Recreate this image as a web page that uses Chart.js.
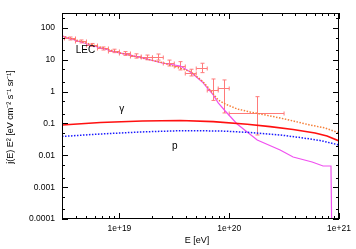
<!DOCTYPE html>
<html>
<head>
<meta charset="utf-8">
<script src="https://cdn.jsdelivr.net/npm/chart.js@4.4.1/dist/chart.umd.min.js"></script>
<style>
  html, body { margin: 0; padding: 0; background: #fff; }
</style>
</head>
<body>
<canvas id="chart" width="356" height="249"></canvas>
<script>
// E in eV, j(E) E^2 in eV cm^-2 s^-1 sr^-1

// LEC model (magenta)
const lecE = [3e18, 5.45e18, 1e19, 1.55e19, 2.51e19, 3.59e19, 4.42e19, 4.91e19, 5.69e19, 6.31e19, 7.16e19, 7.94e19, 9.2e19, 1.18e20, 1.8e20, 2.91e20, 3.82e20, 5.69e20, 7.16e20, 8.45e20, 8.63e20];
const lecFlux = [56.1, 29.2, 16.4, 11.9, 7.8, 6.4, 4.15, 3.11, 2.01, 1.31, 0.787, 0.442, 0.247, 0.0966, 0.0303, 0.0147, 0.00887, 0.00618, 0.00462, 0.00462, 0.00001];

// total (orange dotted)
const totE = [3e18, 1e19, 2.51e19, 4.42e19, 5.69e19, 6.31e19, 7.16e19, 7.94e19, 9.2e19, 1.18e20, 1.55e20, 1.91e20, 2.91e20, 3.82e20, 5.44e20, 7.46e20, 1e21];
const totFlux = [56.2, 16.6, 8.0, 4.3, 2.15, 1.45, 0.85, 0.548, 0.41, 0.286, 0.23, 0.199, 0.149, 0.12, 0.0897, 0.0722, 0.0504];

// gamma (red)
const gamE = [3e18, 6.71e18, 1.62e19, 3.59e19, 7.16e19, 1.46e20, 2.36e20, 3.82e20, 6.05e20, 7.78e20, 1e21];
const gamFlux = [0.0897, 0.1076, 0.12, 0.124, 0.114, 0.0944, 0.0794, 0.0649, 0.0504, 0.0405, 0.0282];

// protons (blue dotted)
const protE = [3e18, 6.71e18, 1.55e19, 3.59e19, 8.28e19, 1.55e20, 2.91e20, 4.71e20, 6.71e20, 1e21];
const protFlux = [0.0391, 0.0468, 0.054, 0.0594, 0.0582, 0.0522, 0.0436, 0.0351, 0.0293, 0.0211];

// measured points with bins and errors
const obsE = [3.55e18, 4.47e18, 5.62e18, 7.08e18, 8.91e18, 1.12e19, 1.41e19, 1.78e19, 2.24e19, 2.82e19, 3.55e19, 4.47e19, 5.62e19, 7.08e19, 8.91e19, 1.78e20];
const obsElo = [3.16e18, 3.98e18, 5.01e18, 6.31e18, 7.94e18, 1e19, 1.26e19, 1.58e19, 2e19, 2.51e19, 3.16e19, 3.98e19, 5.01e19, 6.31e19, 7.94e19, 1e20];
const obsEhi = [3.98e18, 5.01e18, 6.31e18, 7.94e18, 1e19, 1.26e19, 1.58e19, 2e19, 2.51e19, 3.16e19, 3.98e19, 5.01e19, 6.31e19, 7.94e19, 1e20, 3.16e20];
const obsFlux = [46.9, 37.7, 29.3, 22.7, 19.0, 15.8, 13.2, 11.9, 12.3, 7.96, 6.41, 3.95, 5.43, 1.12, 1.28, 0.21];
const obsLo = [42, 34, 26.3, 20.3, 16.8, 13.8, 11.3, 10.0, 9.8, 6.4, 4.8, 3.11, 3.95, 0.53, 0.214, 0.0436];
const obsHi = [52, 42, 32.6, 25.3, 21.5, 18.1, 15.4, 14.1, 15.2, 9.8, 8.75, 5.05, 7.8, 2.5, 2.33, 0.695];

// axes
const xTickValues = [1e19, 1e20, 1e21];
const xTickLabels = ['1e+19', '1e+20', '1e+21'];
const yTickValues = [1e-4, 1e-3, 1e-2, 1e-1, 1, 10, 100];
const yTickLabels = ['0.0001', '0.001', '0.01', '0.1', '1', '10', '100'];

// curve labels placed at data coordinates
const curveLabels = [
    { text: 'LEC', x: 4.9e18, y: 19.7 },
    { text: '\u03b3', x: 1.05e19, y: 0.29 },
    { text: 'p', x: 3.2e19, y: 0.0196 }
];

const FONT = '"Liberation Sans", Arial, sans-serif';

const toPoints = (xs, ys) => xs.map((x, i) => ({ x: x, y: ys[i] }));

// gnuplot-like frame: box, inward ticks on all sides, error bars, text
const frame = {
    id: 'frame',
    beforeDatasetsDraw(chart) {
        const { ctx, chartArea: a, scales: { x, y } } = chart;
        ctx.save();
        ctx.beginPath();
        ctx.rect(a.left, a.top, a.right - a.left, a.bottom - a.top);
        ctx.clip();
        ctx.strokeStyle = '#ff7a7a';
        ctx.lineWidth = 1;
        const cap = 2;
        obsE.forEach((e, i) => {
            const px = Math.round(x.getPixelForValue(e)) + 0.5;
            const py = Math.round(y.getPixelForValue(obsFlux[i])) + 0.5;
            const x0 = x.getPixelForValue(obsElo[i]);
            const x1 = x.getPixelForValue(obsEhi[i]);
            const y0 = y.getPixelForValue(obsLo[i]);
            const y1 = y.getPixelForValue(obsHi[i]);
            ctx.beginPath();
            ctx.moveTo(x0, py); ctx.lineTo(x1, py);
            ctx.moveTo(x0, py - cap); ctx.lineTo(x0, py + cap);
            ctx.moveTo(x1, py - cap); ctx.lineTo(x1, py + cap);
            ctx.moveTo(px, y0); ctx.lineTo(px, y1);
            ctx.moveTo(px - cap, y0); ctx.lineTo(px + cap, y0);
            ctx.moveTo(px - cap, y1); ctx.lineTo(px + cap, y1);
            ctx.stroke();
        });
        ctx.restore();
    },
    afterDatasetsDraw(chart) {
        const { ctx, chartArea: a, scales: { x, y } } = chart;
        ctx.save();
        ctx.strokeStyle = '#000';
        ctx.lineWidth = 1;
        ctx.strokeRect(a.left + 0.5, a.top + 0.5, a.right - a.left - 1, a.bottom - a.top - 1);

        ctx.beginPath();
        // x ticks, 1..9 per decade
        for (let d = 18; d <= 21; d++) {
            for (let m = 1; m <= 9; m++) {
                const v = m * Math.pow(10, d);
                if (v < x.min * 0.999 || v > x.max * 1.001) continue;
                const len = m === 1 ? 6 : 3;
                const px = Math.round(x.getPixelForValue(v)) + 0.5;
                ctx.moveTo(px, a.bottom); ctx.lineTo(px, a.bottom - len);
                ctx.moveTo(px, a.top); ctx.lineTo(px, a.top + len);
            }
        }
        // y ticks, 1, 2, 5 per decade
        for (let d = -4; d <= 2; d++) {
            [1, 2, 5].forEach(m => {
                const v = m * Math.pow(10, d);
                if (v < y.min * 0.999 || v > y.max * 1.001) return;
                const len = m === 1 ? 6 : 3;
                const py = Math.round(y.getPixelForValue(v)) + 0.5;
                ctx.moveTo(a.left, py); ctx.lineTo(a.left + len, py);
                ctx.moveTo(a.right, py); ctx.lineTo(a.right - len, py);
            });
        }
        ctx.stroke();

        ctx.fillStyle = '#000';
        ctx.font = '10px ' + FONT;
        ctx.textAlign = 'center';
        ctx.textBaseline = 'middle';
        curveLabels.forEach(l => {
            ctx.fillText(l.text, x.getPixelForValue(l.x), y.getPixelForValue(l.y));
        });

        ctx.font = '9px ' + FONT;
        ctx.fillText('E [eV]', 197, 241);
        ctx.translate(11, 117);
        ctx.rotate(-Math.PI / 2);
        ctx.fillText('j(E) E\u00b2 [eV cm\u207b\u00b2 s\u207b\u00b9 sr\u207b\u00b9]', 0, 0);
        ctx.restore();
    }
};

const ctx = document.getElementById('chart').getContext('2d');

new Chart(ctx, {
    type: 'line',
    data: {
        datasets: [
            {
                label: 'p',
                data: toPoints(protE, protFlux),
                borderColor: '#1a1aff',
                borderWidth: 1.5,
                borderDash: [1.5, 1.5],
                order: 1
            },
            {
                label: 'gamma',
                data: toPoints(gamE, gamFlux),
                borderColor: '#ff1010',
                borderWidth: 1.6,
                order: 2
            },
            {
                label: 'total',
                data: toPoints(totE, totFlux),
                borderColor: '#f5803a',
                borderWidth: 1.5,
                borderDash: [1.5, 1.5],
                order: 3
            },
            {
                label: 'LEC',
                data: toPoints(lecE, lecFlux),
                borderColor: '#f050f0',
                borderWidth: 1.2,
                order: 4
            }
        ]
    },
    options: {
        responsive: false,
        animation: false,
        layout: { padding: { left: 0, right: 17, top: 13, bottom: 0 } },
        elements: { point: { radius: 0 }, line: { tension: 0 } },
        plugins: {
            legend: { display: false },
            tooltip: { enabled: false }
        },
        scales: {
            x: {
                type: 'logarithmic',
                min: 3e18,
                max: 1e21,
                grid: { display: false, drawTicks: false },
                border: { display: false },
                afterBuildTicks: s => { s.ticks = xTickValues.map(v => ({ value: v })); },
                afterFit: s => { s.height = 30; },
                ticks: {
                    autoSkip: false,
                    maxRotation: 0,
                    padding: 5,
                    color: '#000',
                    font: { family: FONT, size: 8.5 },
                    callback: v => xTickLabels[xTickValues.indexOf(v)]
                }
            },
            y: {
                type: 'logarithmic',
                min: 1e-4,
                max: 295,
                grid: { display: false, drawTicks: false },
                border: { display: false },
                afterBuildTicks: s => { s.ticks = yTickValues.map(v => ({ value: v })); },
                afterFit: s => { s.width = 62; },
                ticks: {
                    autoSkip: false,
                    padding: 7,
                    color: '#000',
                    font: { family: FONT, size: 8.5 },
                    callback: v => yTickLabels[yTickValues.indexOf(v)]
                }
            }
        }
    },
    plugins: [frame]
});
</script>
</body>
</html>
